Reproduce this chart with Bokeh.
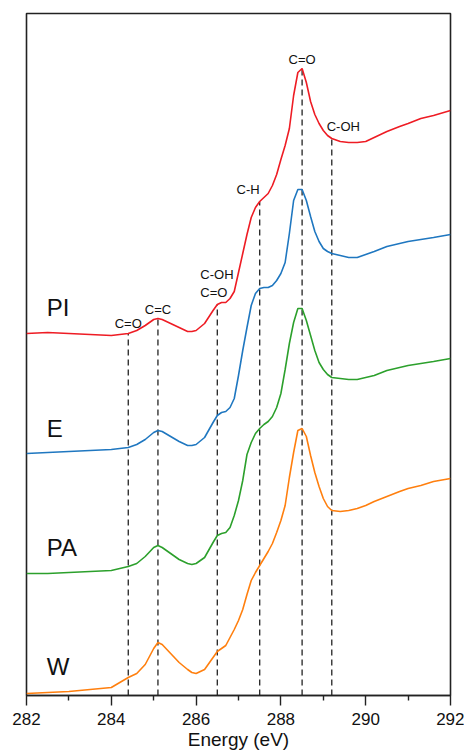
from bokeh.plotting import figure
from bokeh.models import ColumnDataSource, FixedTicker
from bokeh.core.properties import value
from bokeh.embed import file_html
from bokeh.resources import INLINE

# Photon energy grid (eV)
energy = [282.0, 282.5, 283.0, 283.5, 284.0, 284.2, 284.4, 284.6, 284.8, 285.0,
          285.1, 285.2, 285.4, 285.6, 285.8, 285.9, 286.0, 286.2, 286.4, 286.5,
          286.6, 286.7, 286.8, 286.9, 287.0, 287.1, 287.2, 287.3, 287.4, 287.5,
          287.6, 287.7, 287.8, 287.9, 288.0, 288.1, 288.2, 288.3, 288.4, 288.5,
          288.6, 288.7, 288.8, 288.9, 289.0, 289.1, 289.2, 289.4, 289.6, 289.8,
          290.0, 290.2, 290.5, 290.8, 291.0, 291.3, 291.6, 292.0]

# C K-edge absorption (a.u.), each relative to its own pre-edge level
pi_int = [0.00, 0.01, 0.00, -0.01, -0.02, -0.01, 0.00, 0.03, 0.08, 0.14,
          0.15, 0.14, 0.10, 0.06, 0.02, 0.02, 0.03, 0.10, 0.23, 0.29,
          0.31, 0.31, 0.35, 0.42, 0.61, 0.80, 0.99, 1.16, 1.26, 1.32,
          1.36, 1.40, 1.48, 1.59, 1.74, 1.88, 2.05, 2.38, 2.61, 2.65,
          2.51, 2.32, 2.19, 2.10, 2.03, 1.98, 1.95, 1.92, 1.91, 1.91,
          1.92, 1.96, 2.02, 2.07, 2.10, 2.15, 2.18, 2.23]
e_int = [0.00, 0.01, 0.02, 0.03, 0.04, 0.05, 0.06, 0.09, 0.14, 0.21,
         0.23, 0.22, 0.17, 0.12, 0.08, 0.08, 0.09, 0.16, 0.31, 0.38,
         0.41, 0.42, 0.46, 0.55, 0.78, 1.03, 1.26, 1.48, 1.60, 1.65,
         1.66, 1.66, 1.68, 1.73, 1.80, 1.91, 2.20, 2.53, 2.64, 2.64,
         2.53, 2.37, 2.22, 2.12, 2.05, 2.02, 2.00, 1.98, 1.96, 1.96,
         1.99, 2.02, 2.07, 2.10, 2.12, 2.14, 2.16, 2.19]
pa_int = [0.00, 0.00, 0.01, 0.02, 0.03, 0.05, 0.07, 0.10, 0.17, 0.26,
          0.28, 0.26, 0.20, 0.14, 0.10, 0.09, 0.10, 0.16, 0.31, 0.38,
          0.40, 0.41, 0.46, 0.58, 0.73, 0.93, 1.19, 1.31, 1.40, 1.45,
          1.49, 1.52, 1.57, 1.66, 1.80, 2.04, 2.30, 2.51, 2.65, 2.65,
          2.53, 2.38, 2.23, 2.11, 2.04, 1.99, 1.96, 1.95, 1.94, 1.94,
          1.96, 1.98, 2.03, 2.06, 2.08, 2.10, 2.12, 2.15]
w_int = [0.00, 0.01, 0.02, 0.04, 0.06, 0.11, 0.16, 0.20, 0.29, 0.45,
         0.51, 0.49, 0.40, 0.31, 0.24, 0.21, 0.20, 0.24, 0.36, 0.42,
         0.45, 0.48, 0.56, 0.64, 0.73, 0.84, 0.99, 1.13, 1.21, 1.28,
         1.35, 1.42, 1.50, 1.61, 1.73, 1.88, 2.16, 2.41, 2.63, 2.65,
         2.57, 2.38, 2.21, 2.07, 1.95, 1.87, 1.83, 1.82, 1.83, 1.85,
         1.88, 1.92, 1.97, 2.02, 2.05, 2.08, 2.12, 2.15]

samples = ["PI", "E", "PA", "W"]
stack_offsets = [3.6, 2.4, 1.2, 0.0]
colors = ["#ee1c24", "#1f77c0", "#2ca02c", "#ff7f0e"]

# Resonance assignments marked on the PI spectrum
peak_energy = [284.4, 285.1, 286.5, 286.5, 287.5, 288.5, 289.2]
peak_label = ["C=O", "C=C", "C=O", "C-OH", "C-H", "C=O", "C-OH"]
x_ticks = [282, 284, 286, 288, 290, 292]
x_minor = [283, 285, 287, 289, 291]

FONT = "Liberation Sans"
y_lo, y_hi = -0.02, 6.80

p = figure(width=464, height=753, x_range=(282, 292), y_range=(y_lo, y_hi),
           output_backend="svg", toolbar_location=None, y_axis_location=None,
           min_border_left=26, min_border_right=14, min_border_top=13,
           min_border_bottom=58)
p.grid.visible = False
p.outline_line_color = "#222222"
p.outline_line_width = 1.6
p.background_fill_color = "white"
p.border_fill_color = "white"

ax = p.xaxis[0]
ax.ticker = FixedTicker(ticks=x_ticks, minor_ticks=x_minor)
ax.axis_label = "Energy (eV)"
ax.axis_label_text_font = FONT
ax.axis_label_text_font_size = "19px"
ax.axis_label_text_font_style = "normal"
ax.axis_label_text_color = "#111111"
ax.axis_label_standoff = 1
ax.major_label_text_font = FONT
ax.major_label_text_font_size = "17px"
ax.major_label_text_color = "#111111"
ax.major_label_standoff = 7
ax.axis_line_color = "#222222"
ax.axis_line_width = 1.6
ax.major_tick_in = 0
ax.major_tick_out = 10
ax.minor_tick_in = 0
ax.minor_tick_out = 5
ax.major_tick_line_color = "#222222"
ax.minor_tick_line_color = "#222222"
ax.major_tick_line_width = 1.4
ax.minor_tick_line_width = 1.4

# Dashed guides from the bottom of the frame up to the PI curve
pi_top = [pi_int[energy.index(e)] + stack_offsets[0] for e in peak_energy]
guide_x = sorted(set(peak_energy))
guide_top = [pi_int[energy.index(e)] + stack_offsets[0] for e in guide_x]
p.segment(x0=guide_x, y0=[y_lo] * len(guide_x), x1=guide_x, y1=guide_top,
          line_color="#222222", line_width=1.3, line_dash="6 4")

# Stacked spectra
for name, ys, off, col in zip(samples, [pi_int, e_int, pa_int, w_int],
                              stack_offsets, colors):
    src = ColumnDataSource(dict(x=energy, y=[v + off for v in ys]))
    p.line("x", "y", source=src, line_color=col, line_width=1.6)

# Sample names at the left
name_y = [3.86, 2.65, 1.46, 0.27]
p.text(x=[282.48] * 4, y=name_y, text=samples, text_font=value(FONT),
       text_font_size="24px", text_baseline="middle", text_align="left",
       text_color="#111111")

# Assignment labels above the guide tops
label_dy = [0.10, 0.09, 0.12, 0.30, 0.12, 0.09, 0.12]
label_dx = [0.0, 0.0, -0.40, -0.40, 0.0, 0.0, -0.12]
label_align = ["center", "center", "left", "left", "right", "center", "left"]
for align in ["center", "left", "right"]:
    idx = [i for i, a in enumerate(label_align) if a == align]
    src = ColumnDataSource(dict(
        x=[peak_energy[i] + label_dx[i] for i in idx],
        y=[pi_top[i] + label_dy[i] for i in idx],
        t=[peak_label[i] for i in idx]))
    p.text("x", "y", text="t", source=src, text_font=value(FONT),
           text_font_size="13px", text_baseline="middle", text_align=align,
           text_color="#111111")

open("out.html", "w").write(file_html(p, INLINE))
